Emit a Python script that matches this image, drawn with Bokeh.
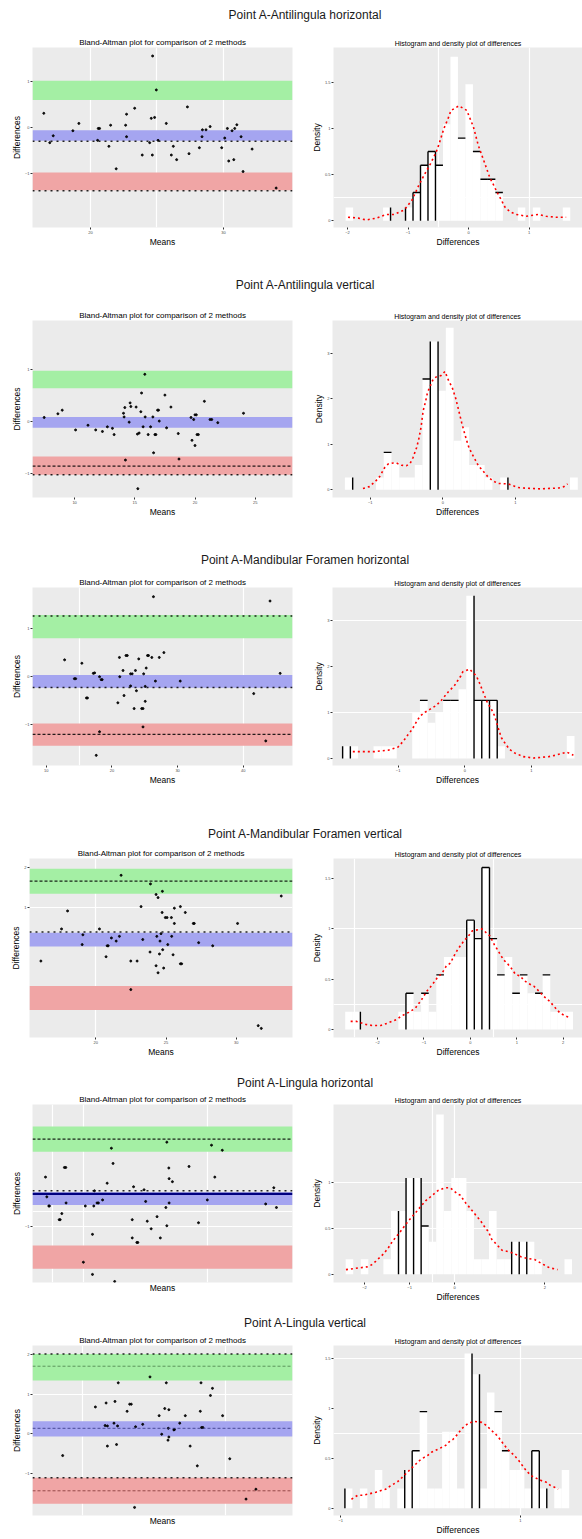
from bokeh.plotting import figure
from bokeh.layouts import column, row
from bokeh.models import Div, BoxAnnotation, Span, FixedTicker, Range1d
from bokeh.embed import file_html
from bokeh.resources import INLINE

# ---------------------------------------------------------------- data
main_titles = [
    "Point A-Antilingula horizontal",
    "Point A-Antilingula vertical",
    "Point A-Mandibular Foramen horizontal",
    "Point A-Mandibular Foramen vertical",
    "Point A-Lingula horizontal",
    "Point A-Lingula vertical",
]
ba_title = "Bland-Altman plot for comparison of 2 methods"
hist_title = "Histogram and density plot of differences"

# ---- row 1
ba1_means = [16.48, 16.93, 17.19, 18.67, 19.12, 20.58, 20.68, 20.53, 21.51, 21.38, 21.93, 22.64, 22.71, 22.71,
             23.32, 23.89, 24.45, 24.57, 24.65, 24.82, 24.67, 24.95, 25.08, 25.70, 26.08, 26.23, 26.48, 27.29,
             27.41, 28.19, 28.39, 28.42, 28.69, 29.0, 29.87, 30.10, 30.30, 30.40, 30.65, 30.78, 30.85, 31.01,
             31.33, 31.48, 32.16, 33.97]
ba1_diffs = [0.31, -0.33, -0.18, -0.07, 0.09, -0.02, -0.02, -0.28, 0.05, -0.41, -0.90, 0.05, 0.29, -0.20,
             0.42, -0.60, -0.33, 0.20, -0.60, 0.22, 1.56, 0.82, -0.28, 0.09, -0.60, -0.41, -0.70, 0.45,
             -0.57, -0.44, -0.20, -0.05, -0.05, 0.02, -0.44, -0.23, -0.02, -0.73, -0.07, -0.70, -0.02, 0.06,
             -0.20, -0.96, -0.47, -1.32]
ba1_upper_ci = (0.60, 1.02)
ba1_bias_ci = (-0.29, -0.06)
ba1_lower_ci = (-1.37, -0.98)
ba1_lines = [-0.30, -1.38]
hist1_start = -2.03
hist1_width = 0.1236
hist1_density = [0.145, 0, 0, 0, 0, 0.145, 0, 0, 0.145, 0.308, 0.605, 0.754, 0.605, 1.051, 1.783, 0.899,
                 1.486, 0.754, 0.453, 0.453, 0.308, 0, 0, 0.145, 0, 0.145, 0, 0, 0, 0.145]
dens1_x = [-1.99, -1.82, -1.69, -1.52, -1.36, -1.23, -1.06, -0.93, -0.82, -0.74, -0.63, -0.54, -0.49, -0.41,
           -0.34, -0.29, -0.16, -0.03, 0.08, 0.16, 0.22, 0.27, 0.35, 0.42, 0.47, 0.53, 0.60, 0.68, 0.79,
           0.95, 1.15, 1.28, 1.44, 1.61]
dens1_y = [0.04, 0.03, 0.01, 0.03, 0.07, 0.07, 0.12, 0.23, 0.39, 0.49, 0.62, 0.74, 0.83, 1.00, 1.11, 1.20,
           1.25, 1.20, 1.02, 0.82, 0.71, 0.62, 0.47, 0.38, 0.31, 0.24, 0.15, 0.10, 0.07, 0.05, 0.07, 0.05,
           0.04, 0.04]

# ---- row 2
ba2_means = [7.47, 8.61, 8.97, 10.08, 11.11, 11.75, 12.31, 12.72, 13.14, 13.28, 14.06, 14.11, 14.17, 14.22,
             14.53, 14.61, 14.67, 15.11, 15.22, 15.36, 15.50, 15.56, 15.69, 15.83, 15.86, 16.11, 16.31, 16.50,
             16.56, 16.67, 16.75, 16.89, 16.97, 17.03, 17.50, 17.64, 18.00, 18.61, 18.67, 19.67, 19.75, 19.89,
             20.00, 20.00, 20.11, 20.17, 20.28, 20.78, 21.25, 21.39, 21.89, 24.03, 15.25]
ba2_diffs = [0.07, 0.14, 0.21, -0.17, -0.08, -0.17, -0.20, -0.11, -0.14, -0.26, 0.15, 0.08, 0.26, -0.75,
             -0.02, 0.35, 0.28, 0.27, -0.25, -0.23, 0.18, 0.54, -0.11, 0.90, 0.08, -0.26, -0.11, 0.08,
             -0.61, -0.26, -0.26, 0.21, 0.21, 0.00, 0.50, -0.13, 0.27, -0.24, -0.73, 0.07, -0.37, 0.03,
             0.12, -0.47, 0.12, -0.26, -0.26, 0.38, 0.03, 0.03, -0.03, 0.15, -1.30]
ba2_upper_ci = (0.63, 0.97)
ba2_bias_ci = (-0.13, 0.08)
ba2_lower_ci = (-1.03, -0.68)
ba2_lines = [-0.865, -1.03]
hist2_start = -1.349
hist2_width = 0.107
hist2_density = [0.271, 0, 0, 0, 0.271, 0.822, 0.602, 0.271, 0.271, 0.543, 2.436, 3.258, 2.179, 3.558, 1.078,
                 1.372, 0.543, 0.543, 0.271, 0, 0.271, 0, 0, 0, 0, 0, 0, 0, 0, 0.271]
dens2_x = [-1.10, -1.01, -0.92, -0.87, -0.80, -0.75, -0.68, -0.64, -0.57, -0.50, -0.45, -0.41, -0.36, -0.33,
           -0.30, -0.27, -0.24, -0.21, -0.17, -0.13, -0.08, -0.02, 0.03, 0.08, 0.13, 0.18, 0.22, 0.26, 0.29,
           0.33, 0.36, 0.40, 0.45, 0.49, 0.55, 0.62, 0.69, 0.76, 0.90, 0.97, 1.04, 1.11, 1.34, 1.60, 1.67, 1.72]
dens2_y = [0.03, 0.07, 0.20, 0.29, 0.49, 0.57, 0.59, 0.59, 0.54, 0.53, 0.58, 0.71, 0.93, 1.12, 1.37, 1.74,
           1.92, 2.14, 2.29, 2.44, 2.49, 2.51, 2.60, 2.40, 2.25, 2.00, 1.74, 1.48, 1.30, 1.08, 0.93, 0.80,
           0.65, 0.53, 0.42, 0.29, 0.20, 0.14, 0.13, 0.09, 0.05, 0.04, 0.02, 0.04, 0.07, 0.13]

# ---- row 3
ba3_means = [12.79, 14.28, 14.48, 15.42, 16.12, 16.27, 17.16, 17.36, 17.61, 18.11, 18.11, 18.36, 18.51, 20.90,
             21.14, 21.19, 21.69, 21.84, 22.14, 22.34, 22.84, 23.08, 23.38, 23.58, 23.73, 24.08, 24.53, 24.73,
             24.73, 24.83, 25.07, 25.22, 25.42, 25.57, 26.07, 26.32, 26.62, 27.21, 27.91, 30.40, 41.59, 43.43,
             44.08, 45.62, 22.84, 25.07]
ba3_diffs = [0.35, -0.04, -0.04, 0.28, -0.44, -0.44, 0.07, 0.08, -1.63, 0.00, -1.14, -0.06, -0.06, -0.54,
             0.40, 0.00, 0.13, -0.39, 0.44, 0.44, 0.06, 0.06, -0.66, 0.13, -0.29, 0.37, -0.66, -0.66,
             -1.04, 0.06, -0.51, 0.18, 0.44, 0.44, 0.40, 1.66, -0.09, 0.40, 0.50, -0.09, -0.35, -1.33,
             1.57, 0.07, -0.19, -0.20]
ba3_upper_ci = (0.80, 1.28)
ba3_bias_ci = (-0.23, 0.035)
ba3_lower_ci = (-1.43, -0.97)
ba3_lines = [1.26, -0.224, -1.196]
hist3_start = -1.833
hist3_width = 0.116
hist3_density = [0.268, 0.268, 0, 0, 0.268, 0.268, 0.268, 0, 0, 1.007, 1.261, 0.775, 1.007, 1.261, 1.261, 1.5,
                 3.529, 1.261, 1.261, 1.261, 0.268, 0, 0, 0, 0, 0, 0, 0, 0, 0.486]
dens3_x = [-1.68, -1.58, -1.35, -1.15, -1.00, -0.92, -0.85, -0.79, -0.72, -0.67, -0.59, -0.52, -0.44, -0.37,
           -0.29, -0.24, -0.16, -0.11, -0.06, -0.03, 0.07, 0.17, 0.21, 0.24, 0.29, 0.34, 0.40, 0.45, 0.50,
           0.55, 0.60, 0.67, 0.75, 0.88, 1.03, 1.26, 1.36, 1.46, 1.53, 1.63]
dens3_y = [0.15, 0.15, 0.15, 0.18, 0.25, 0.38, 0.52, 0.63, 0.81, 0.92, 1.01, 1.07, 1.14, 1.23, 1.37, 1.46,
           1.57, 1.68, 1.79, 1.88, 1.94, 1.80, 1.68, 1.57, 1.39, 1.21, 1.07, 0.92, 0.67, 0.45, 0.34, 0.20,
           0.12, 0.04, 0.01, 0.04, 0.07, 0.11, 0.14, 0.07]

# ---- row 4
ba4_means = [16.09, 17.56, 17.99, 19.03, 19.08, 20.26, 20.73, 20.81, 20.88, 21.11, 21.45, 21.68, 21.80, 22.49,
             22.49, 22.94, 23.22, 23.34, 23.86, 23.89, 24.29, 24.29, 24.43, 24.34, 24.43, 24.53, 24.57, 24.64,
             24.72, 24.74, 24.76, 24.83, 24.95, 25.07, 25.12, 25.38, 25.40, 25.50, 25.59, 25.59, 26.02, 26.02,
             26.11, 26.37, 26.94, 27.01, 27.32, 28.32, 30.09, 31.56, 31.78, 33.20]
ba4_diffs = [-0.38, 0.44, 0.90, 0.04, 0.29, 0.44, -0.27, 0.01, 0.01, 0.21, 0.13, 0.25, 1.81, -0.38,
             -1.11, -0.38, 1.01, 0.17, -0.15, 1.59, 1.32, -0.50, 1.24, 0.25, -0.68, -0.20, 0.13, 0.32,
             0.86, 1.40, -0.09, -0.56, 0.73, 0.73, 0.04, 0.73, 0.25, -0.22, 0.58, 0.97, 1.01, -0.45,
             -0.45, 0.86, 0.58, 0.58, 0.09, 0.01, 0.58, -2.03, -2.10, 1.28]
ba4_upper_ci = (1.34, 1.98)
ba4_bias_ci = (-0.01, 0.34)
ba4_lower_ci = (-1.63, -1.02)
ba4_lines = [1.66, 0.36]
hist4_start = -2.698
hist4_width = 0.1637
hist4_density = [0.177, 0.177, 0, 0, 0, 0, 0, 0.177, 0.36, 0.177, 0.36, 0.177, 0.543, 0.72, 0.72, 0.72,
                 1.087, 0.903, 1.61, 0.903, 0.543, 0.72, 0.36, 0.543, 0.36, 0.36, 0.543, 0.177, 0.177, 0.177]
dens4_x = [-2.58, -2.45, -2.25, -2.12, -1.93, -1.80, -1.69, -1.58, -1.50, -1.33, -1.19, -1.06, -0.94, -0.83,
           -0.72, -0.61, -0.52, -0.43, -0.32, -0.22, -0.14, -0.04, 0.04, 0.25, 0.42, 0.52, 0.59, 0.65, 0.72,
           0.79, 0.88, 0.97, 1.08, 1.15, 1.24, 1.37, 1.48, 1.58, 1.71, 1.84, 1.94, 2.03, 2.12]
dens4_y = [0.08, 0.08, 0.05, 0.04, 0.04, 0.06, 0.08, 0.10, 0.13, 0.17, 0.21, 0.29, 0.38, 0.44, 0.51, 0.56,
           0.63, 0.66, 0.76, 0.83, 0.88, 0.93, 0.98, 1.00, 0.93, 0.84, 0.79, 0.74, 0.69, 0.66, 0.61, 0.55,
           0.53, 0.49, 0.46, 0.43, 0.38, 0.33, 0.28, 0.21, 0.16, 0.14, 0.12]

# ---- row 5
ba5_means = [8.84, 9.05, 9.37, 9.47, 11.05, 11.21, 11.47, 11.89, 12.11, 12.16, 14.95, 15.26, 16.42, 16.42,
             16.63, 16.74, 17.16, 17.37, 18.05, 18.79, 19.47, 19.74, 22.84, 22.84, 23.05, 23.58, 23.74, 24.74,
             25.00, 25.26, 25.89, 26.84, 27.37, 28.26, 28.42, 28.42, 28.74, 28.79, 28.79, 29.32, 32.00, 33.53,
             34.95, 35.63, 36.16, 37.37, 44.37, 45.68, 46.11, 20.00]
ba5_diffs = [-0.02, -0.41, -0.59, -0.59, -0.86, -0.86, -0.74, 0.17, 0.17, -0.53, -1.70, -0.59, -1.15, -1.94,
             -0.59, -0.29, -0.53, -0.53, -0.47, -0.14, 0.55, 0.25, -0.86, -1.22, -0.21, -1.31, -1.31, -0.27,
             -0.50, -0.89, -1.04, -0.80, -1.22, -0.62, 0.67, -0.98, 0.16, -0.05, -0.53, -0.11, 0.19, -0.92,
             -0.47, 0.61, -0.02, 0.51, -0.55, -0.23, -0.62, -2.08]
ba5_upper_ci = (0.48, 0.98)
ba5_bias_ci = (-0.57, -0.32)
ba5_lower_ci = (-1.83, -1.37)
ba5_lines = [0.73, -0.29, -0.35]
hist5_start = -2.416
hist5_width = 0.1672
hist5_density = [0.162, 0, 0.162, 0, 0, 0.162, 0.687, 0.687, 1.047, 1.047, 0.525, 0.353, 1.737, 0.687, 1.047,
                 1.047, 0.687, 0.162, 0.162, 0.687, 0.162, 0.162, 0.353, 0.353, 0.353, 0.162, 0, 0, 0, 0.162]
dens5_x = [-2.41, -2.10, -1.94, -1.85, -1.75, -1.58, -1.48, -1.39, -1.31, -1.24, -1.04, -0.64, -0.37, -0.22,
           -0.10, 0.07, 0.12, 0.25, 0.34, 0.47, 0.56, 0.67, 0.75, 0.82, 1.05, 1.15, 1.29, 1.47, 1.62, 1.77,
           1.91, 2.10, 2.28]
dens5_y = [0.05, 0.07, 0.08, 0.10, 0.14, 0.22, 0.28, 0.35, 0.40, 0.44, 0.57, 0.80, 0.91, 0.94, 0.94, 0.87,
           0.86, 0.77, 0.72, 0.64, 0.59, 0.51, 0.46, 0.38, 0.26, 0.25, 0.23, 0.19, 0.17, 0.16, 0.12, 0.07, 0.05]

# ---- row 6
ba6_means = [18.63, 20.92, 21.67, 21.76, 21.76, 22.22, 22.29, 22.40, 22.47, 22.52, 23.14, 23.32, 23.43, 23.66,
             23.73, 24.23, 24.74, 25.56, 25.77, 25.88, 26.02, 26.06, 26.00, 26.06, 26.41, 26.45, 26.82, 27.21,
             27.55, 28.05, 28.26, 28.31, 28.35, 28.44, 28.97, 29.11, 29.82, 30.32, 31.46, 32.15, 21.60, 25.38]
ba6_diffs = [-0.55, 0.68, 0.78, 0.20, -0.31, 0.27, 0.82, -0.27, 0.20, 1.29, 0.57, 0.75, 0.75, -1.86,
             0.18, 0.24, 1.44, -0.01, 0.64, 1.29, 0.14, 0.61, -0.16, -0.08, 0.10, 0.11, 0.27, 0.46,
             -0.31, -0.81, 0.57, 1.29, 0.16, 0.16, 0.97, 1.15, 0.46, -0.63, -1.65, -1.40, 0.21, 0.46]
ba6_upper_ci = (1.35, 2.02)
ba6_bias_ci = (-0.07, 0.32)
ba6_lower_ci = (-1.77, -1.11)
ba6_lines = [2.02, 1.71, 0.14, -1.11, -1.44]
hist6_start = -0.953
hist6_width = 0.0832
hist6_density = [0.198, 0, 0.198, 0, 0.383, 0.198, 0, 0.198, 0.383, 0.575, 0.968, 0.198, 0.198, 0.767, 0.767,
                 0.198, 1.55, 1.342, 0.198, 1.16, 0.968, 0.575, 0.383, 0.383, 0.198, 0.575, 0.198, 0, 0.198, 0.383]
dens6_x = [-0.88, -0.81, -0.75, -0.70, -0.61, -0.54, -0.50, -0.47, -0.36, -0.27, -0.12, -0.07, -0.03, 0.01,
           0.08, 0.17, 0.20, 0.25, 0.30, 0.35, 0.42, 0.48, 0.57, 0.62, 0.69, 0.75, 0.78, 0.84, 0.87, 0.93,
           0.98, 1.02, 1.07, 1.13, 1.20, 1.25, 1.29, 1.33, 1.38, 1.42]
dens6_y = [0.09, 0.13, 0.13, 0.14, 0.16, 0.18, 0.19, 0.21, 0.27, 0.35, 0.48, 0.51, 0.53, 0.56, 0.59, 0.63,
           0.66, 0.69, 0.74, 0.80, 0.85, 0.87, 0.86, 0.83, 0.77, 0.72, 0.68, 0.61, 0.58, 0.53, 0.48, 0.43,
           0.37, 0.32, 0.29, 0.27, 0.26, 0.23, 0.21, 0.19]

# axis tick labels
ba_xticks = [[20, 30], [10, 15, 20, 25], [10, 20, 30, 40], [20, 25, 30], [], []]
ba_yticks = [[-1, 0, 1], [-1, 0, 1], [-1, 0, 1], [1, 2], [-1], [-1, 0, 1, 2]]
hist_xticks = [[-2, -1, 0, 1], [-1, 0, 1], [-1, 0, 1], [-2, -1, 0, 1, 2], [-2, -1, 0, 2], [-1, 1]]
hist_yticks = [[0, 0.5, 1, 1.5], [0, 1, 2, 3], [0, 1, 2, 3], [0, 0.5, 1, 1.5], [0, 0.5, 1], [0, 0.5, 1, 1.5]]

# ---------------------------------------------------------------- styling / layout
FONT = "Liberation Sans"
PANEL = "#EBEBEB"
BAND_COLORS = ["#A4EFA4", "#A5A5F0", "#F0A5A5"]
LINE_STYLES = {
    "dot": dict(line_color="black", line_dash="2 4", line_width=1.5, line_alpha=0.85),
    "dense": dict(line_color="black", line_dash="3 2", line_width=1.2, line_alpha=0.85),
    "solid": dict(line_color="#00007F", line_dash="solid", line_width=2.2, line_alpha=1.0),
    "dash_g": dict(line_color="#3F6F3F", line_dash="3 2", line_width=1.0, line_alpha=0.7),
    "dash_b": dict(line_color="#33337F", line_dash="3 2", line_width=1.0, line_alpha=0.8),
    "dash_r": dict(line_color="#7F3333", line_dash="3 2", line_width=1.0, line_alpha=0.8),
}
ba_line_styles = [["dot", "dot"], ["dense", "dot"], ["dot", "dot", "dense"], ["dense", "dot"],
                  ["dense", "dot", "solid"], ["dot", "dash_g", "dash_b", "dot", "dash_r"]]

ba_xrange = [(15.63, 35.2), (6.5, 28.1), (7.9, 47.5), (15.28, 34.0), (6.74, 48.7), (16.52, 34.71)]
ba_yrange = [(-2.18, 1.745), (-1.47, 1.935), (-1.84, 1.85), (-2.333, 2.239), (-2.1, 1.413), (-2.065, 2.234)]
hist_xrange = [(-2.23, 1.88), (-1.52, 1.926), (-1.985, 1.767), (-2.95, 2.417), (-2.686, 2.832), (-1.08, 1.691)]
hist_yrange = [(-0.072, 1.884), (-0.169, 3.72), (-0.152, 3.71), (-0.08, 1.7), (-0.09, 1.845), (-0.073, 1.63)]

ba_xgrid = [[20, 25, 30], [], [15, 40], [20], [10, 15, 35], [20, 30]]
ba_ygrid = [[], [], [], [1], [-1.0, -0.69], [1]]
hist_xgrid = [[-0.5, 1.0], [], [], [-2.5, 0.5], [-0.5, 0], [1]]
hist_ygrid = [[0.25], [], [1, 3], [0.25, 1.0], [0.5, 1.0], [0.75, 1.5]]

hist_edge_lines = [[6, 8, 9, 10, 11, 12], [1, 11, 12, 21], [0, 1, 17, 18, 19, 20], [2, 8, 16, 17, 18, 19],
                   [7, 8, 9, 10, 22, 23, 24], [0, 8, 9, 17, 18, 25, 26, 27]]
hist_top_lines = [[9, 10, 11, 12, 15, 17, 18, 19, 20], [5, 10], [10, 13, 14, 17, 18, 19],
                  [8, 10, 12, 16, 17, 18, 19, 20, 22, 23, 25, 26], [10], [9, 10, 20, 21, 25]]

FIG_H = [256, 261, 260, 235, 226, 207]
MB_TOP = [25, 28, 20, 17, 14, 15]
MB_BOT = [51, 56, 62, 39, 34, 17]
TITLE_H = 14
LEFT_W, RIGHT_W = 300, 274
PAGE_PAD = 8


def style_axes(p, xlabel, ylabel, xticks, yticks, xgrid, ygrid):
    p.background_fill_color = PANEL
    p.border_fill_color = "white"
    p.outline_line_color = None
    p.title.text_font = FONT
    p.title.text_font_style = "normal"
    p.title.align = "center"
    p.title.text_color = "black"
    p.title.standoff = 2
    p.xaxis.axis_label = xlabel
    p.yaxis.axis_label = ylabel
    p.xaxis.ticker = FixedTicker(ticks=xticks)
    p.yaxis.ticker = FixedTicker(ticks=yticks)
    for ax in (p.xaxis[0], p.yaxis[0]):
        ax.axis_label_text_font = FONT
        ax.axis_label_text_font_size = "8.5px"
        ax.axis_label_text_font_style = "normal"
        ax.axis_label_text_color = "black"
        ax.axis_label_standoff = 0
        ax.major_label_text_font = FONT
        ax.major_label_text_font_size = "4px"
        ax.major_label_text_color = "#4D4D4D"
        ax.major_label_standoff = 1
        ax.major_tick_out = 2
        ax.major_tick_in = 0
        ax.minor_tick_out = 0
        ax.minor_tick_in = 0
        ax.major_tick_line_color = "#333333"
        ax.axis_line_color = None
    p.xgrid.ticker = FixedTicker(ticks=xgrid)
    p.ygrid.ticker = FixedTicker(ticks=ygrid)
    for g in (p.xgrid[0], p.ygrid[0]):
        g.grid_line_color = "white"
        g.grid_line_width = 1.2
        g.minor_grid_line_color = None


def ba_plot(i, means, diffs, upper_ci, bias_ci, lower_ci, lines):
    p = figure(width=LEFT_W, height=FIG_H[i], x_range=Range1d(*ba_xrange[i]), y_range=Range1d(*ba_yrange[i]),
               output_backend="svg", toolbar_location=None, title=ba_title,
               min_border_left=20, min_border_right=16, min_border_top=MB_TOP[i], min_border_bottom=MB_BOT[i])
    style_axes(p, "Means", "Differences", ba_xticks[i], ba_yticks[i], ba_xgrid[i], ba_ygrid[i])
    p.title.text_font_size = "8px"
    for (lo, hi), col in zip([upper_ci, bias_ci, lower_ci], BAND_COLORS):
        p.add_layout(BoxAnnotation(bottom=lo, top=hi, fill_color=col, fill_alpha=1.0,
                                   line_color=None, level="underlay"))
    p.scatter(means, diffs, size=2.0, color="black", alpha=0.9)
    for y, st in zip(lines, ba_line_styles[i]):
        p.add_layout(Span(location=y, dimension="width", **LINE_STYLES[st]))
    return p


def hist_plot(i, start, width, density, dx, dy):
    p = figure(width=RIGHT_W, height=FIG_H[i], x_range=Range1d(*hist_xrange[i]), y_range=Range1d(*hist_yrange[i]),
               output_backend="svg", toolbar_location=None, title=hist_title,
               min_border_left=24, min_border_right=0, min_border_top=MB_TOP[i], min_border_bottom=MB_BOT[i])
    style_axes(p, "Differences", "Density", hist_xticks[i], hist_yticks[i], hist_xgrid[i], hist_ygrid[i])
    p.title.text_font_size = "7px"
    n = len(density)
    edges = [start + width * k for k in range(n + 1)]
    p.quad(left=edges[:-1], right=edges[1:], top=density, bottom=0, fill_color="white", line_color=None)
    # outline fragments
    vx, vy1 = [], []
    for k in hist_edge_lines[i]:
        adj = [density[j] for j in (k - 1, k) if 0 <= j < n]
        vx.append(edges[k])
        vy1.append(max(adj))
    p.segment(x0=vx, y0=[0] * len(vx), x1=vx, y1=vy1, line_color="black", line_width=1.4)
    tx0 = [edges[k] for k in hist_top_lines[i]]
    tx1 = [edges[k + 1] for k in hist_top_lines[i]]
    ty = [density[k] for k in hist_top_lines[i]]
    p.segment(x0=tx0, y0=ty, x1=tx1, y1=ty, line_color="black", line_width=1.4)
    p.line(dx, dy, line_color="red", line_width=1.6, line_dash="2 3")
    return p


rows_data = [
    (ba1_means, ba1_diffs, ba1_upper_ci, ba1_bias_ci, ba1_lower_ci, ba1_lines,
     hist1_start, hist1_width, hist1_density, dens1_x, dens1_y),
    (ba2_means, ba2_diffs, ba2_upper_ci, ba2_bias_ci, ba2_lower_ci, ba2_lines,
     hist2_start, hist2_width, hist2_density, dens2_x, dens2_y),
    (ba3_means, ba3_diffs, ba3_upper_ci, ba3_bias_ci, ba3_lower_ci, ba3_lines,
     hist3_start, hist3_width, hist3_density, dens3_x, dens3_y),
    (ba4_means, ba4_diffs, ba4_upper_ci, ba4_bias_ci, ba4_lower_ci, ba4_lines,
     hist4_start, hist4_width, hist4_density, dens4_x, dens4_y),
    (ba5_means, ba5_diffs, ba5_upper_ci, ba5_bias_ci, ba5_lower_ci, ba5_lines,
     hist5_start, hist5_width, hist5_density, dens5_x, dens5_y),
    (ba6_means, ba6_diffs, ba6_upper_ci, ba6_bias_ci, ba6_lower_ci, ba6_lines,
     hist6_start, hist6_width, hist6_density, dens6_x, dens6_y),
]

blocks = []
for i, d in enumerate(rows_data):
    t = Div(text=main_titles[i], width=LEFT_W + RIGHT_W, height=TITLE_H, margin=(0, 0, 0, 0),
            styles={"font-family": FONT, "font-size": "12px", "line-height": "14px",
                    "text-align": "center", "text-indent": "20px", "color": "#1A1A1A"})
    left = ba_plot(i, *d[:6])
    right = hist_plot(i, *d[6:])
    blocks.append(t)
    blocks.append(row(left, right, spacing=0))

layout = column(*blocks, spacing=0, margin=(PAGE_PAD, 0, 0, PAGE_PAD))
open("out.html", "w").write(file_html(layout, INLINE, title="Bland-Altman comparison"))
